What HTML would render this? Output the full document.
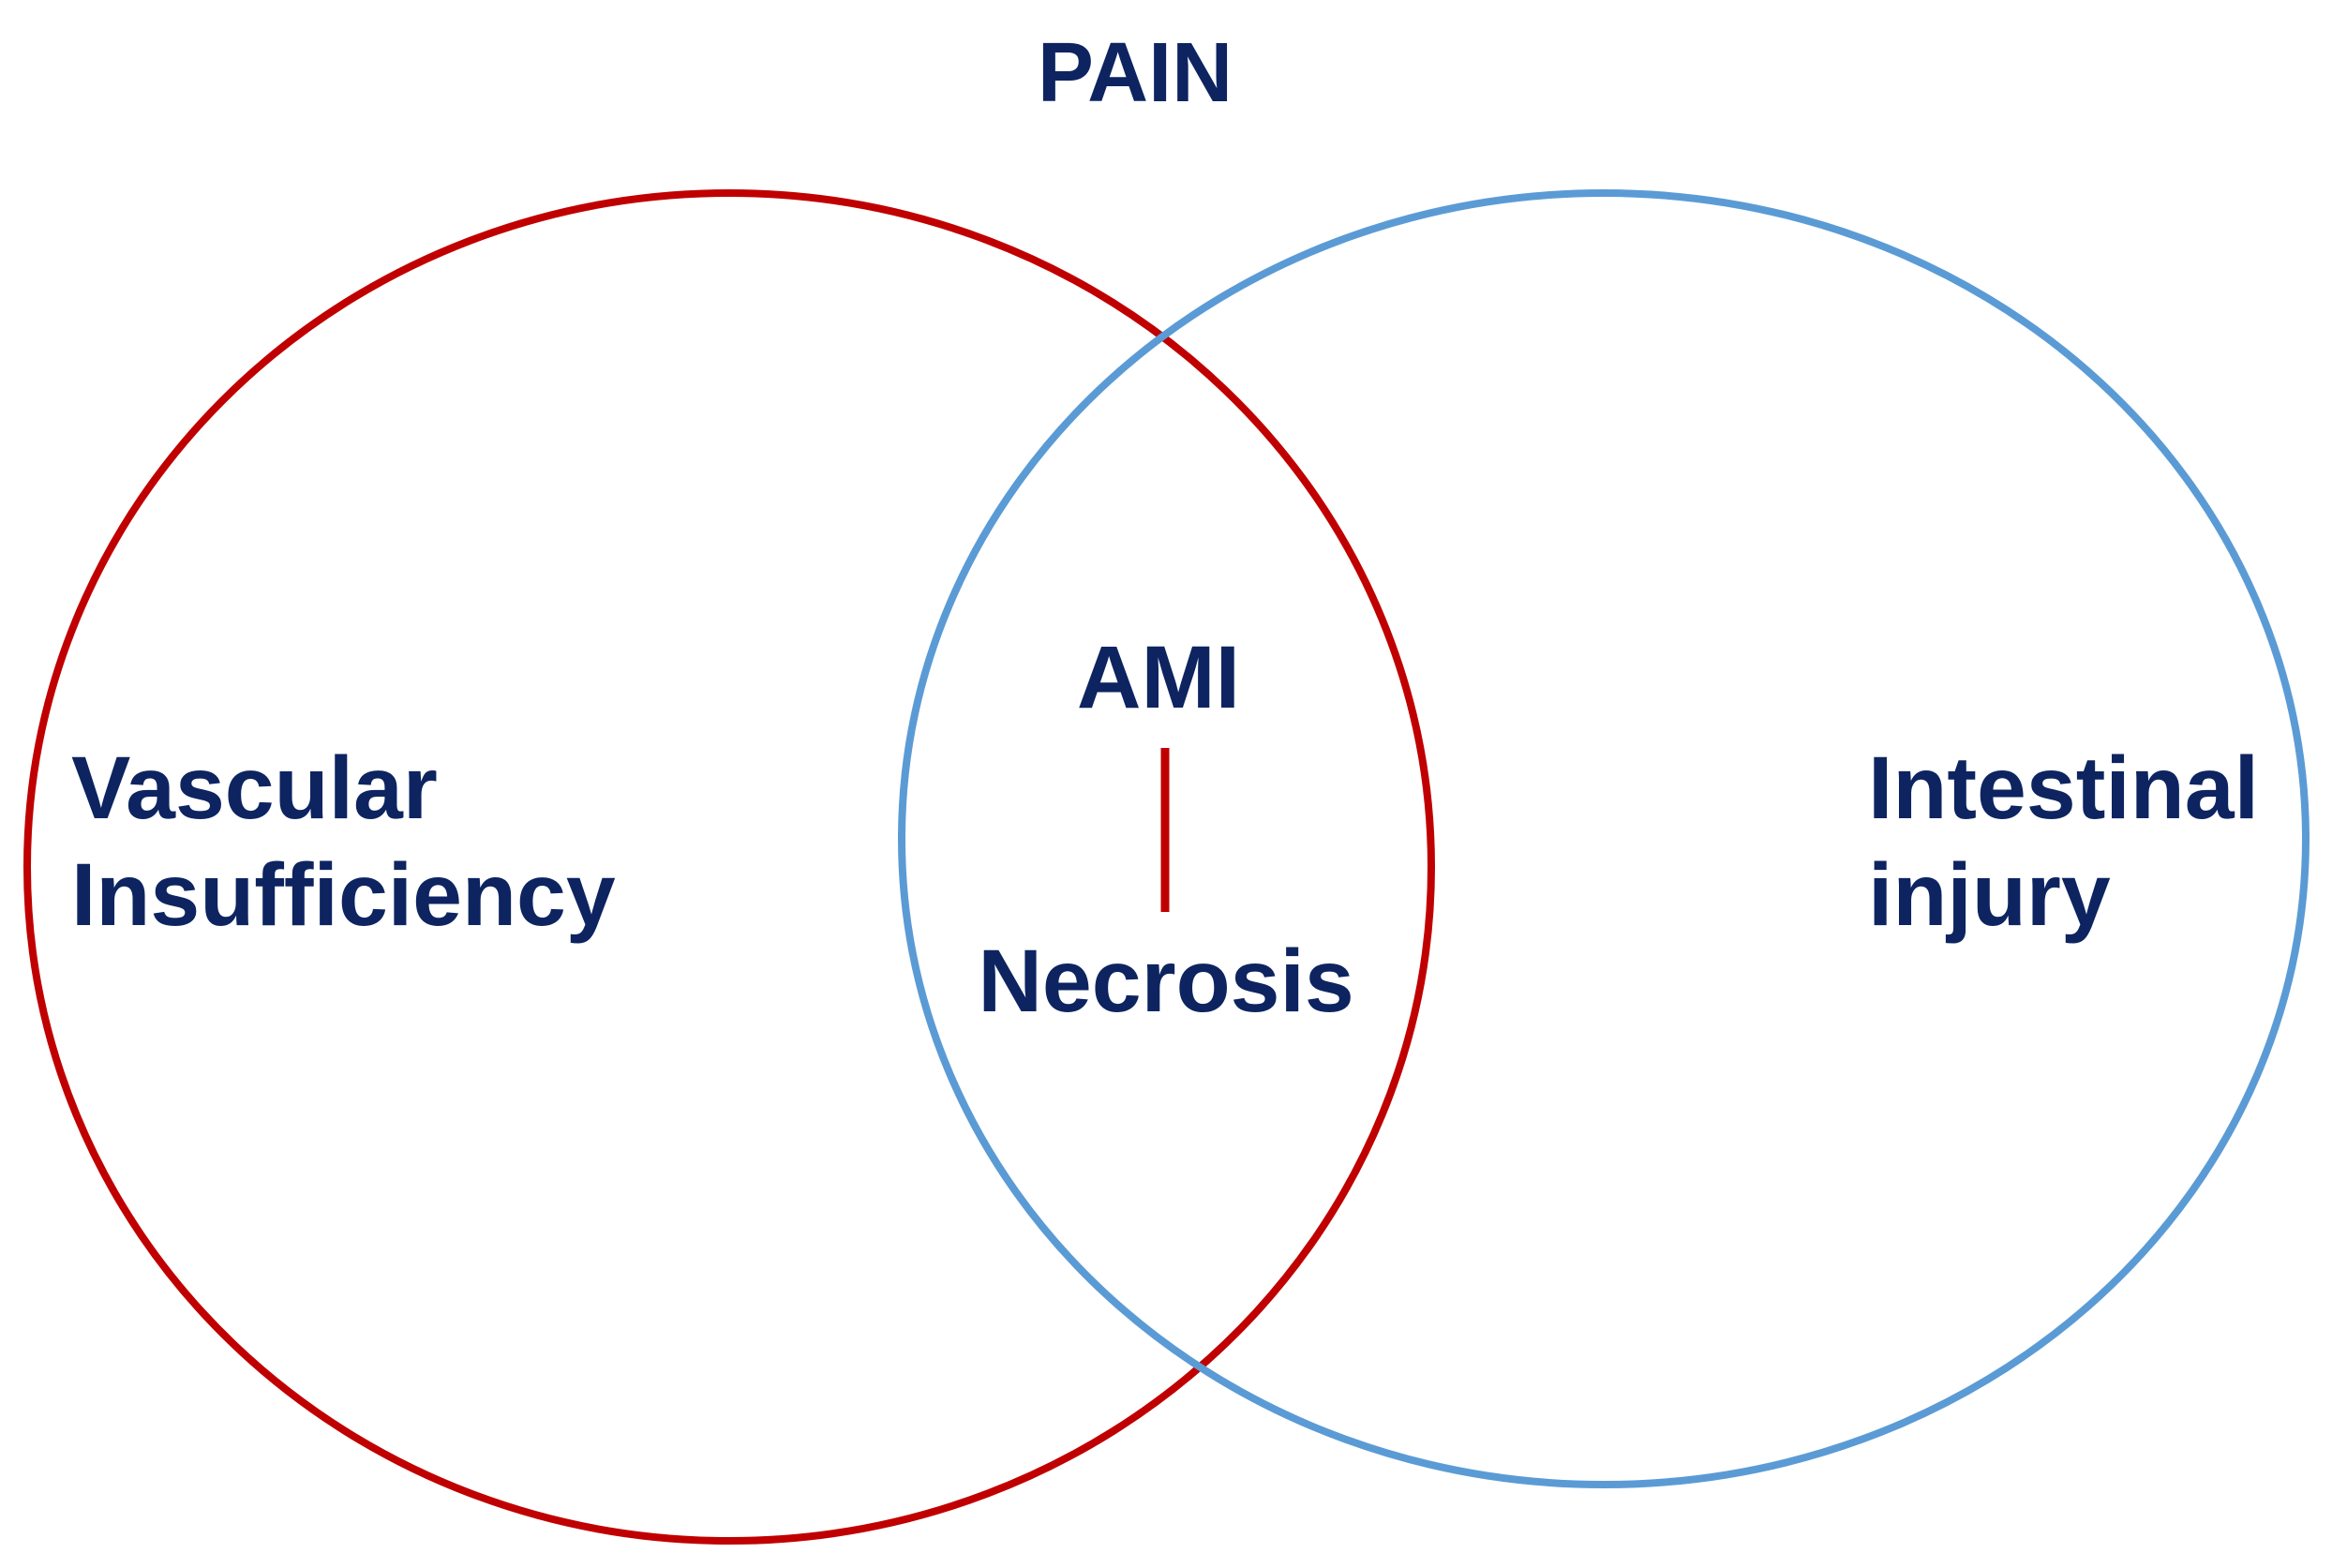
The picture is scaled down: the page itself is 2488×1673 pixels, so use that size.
<!DOCTYPE html>
<html><head><style>
html,body{margin:0;padding:0;background:#fff;}
svg{display:block;}
text{font-family:"Liberation Sans",Arial,sans-serif;font-weight:bold;fill:#0d2461;font-size:95px;}
</style></head><body>
<svg width="2488" height="1673" viewBox="0 0 2488 1673" xmlns="http://www.w3.org/2000/svg">
<ellipse cx="778" cy="925" rx="749" ry="719" fill="none" stroke="#c00000" stroke-width="8"/>
<ellipse cx="1711" cy="895" rx="749" ry="689" fill="none" stroke="#5b9bd5" stroke-width="8"/>
<line x1="1243" y1="798" x2="1243" y2="973" stroke="#c00000" stroke-width="9"/>
<text x="1211" y="108" text-anchor="middle" style="font-size:90px">PAIN</text>
<text x="1236" y="755" text-anchor="middle">AMI</text>
<text x="1244" y="1079" text-anchor="middle">Necrosis</text>
<text x="76" y="873">Vascular</text>
<text x="76" y="987">Insufficiency</text>
<text x="1993" y="873">Intestinal</text>
<text x="1993" y="987">injury</text>
</svg>
</body></html>
